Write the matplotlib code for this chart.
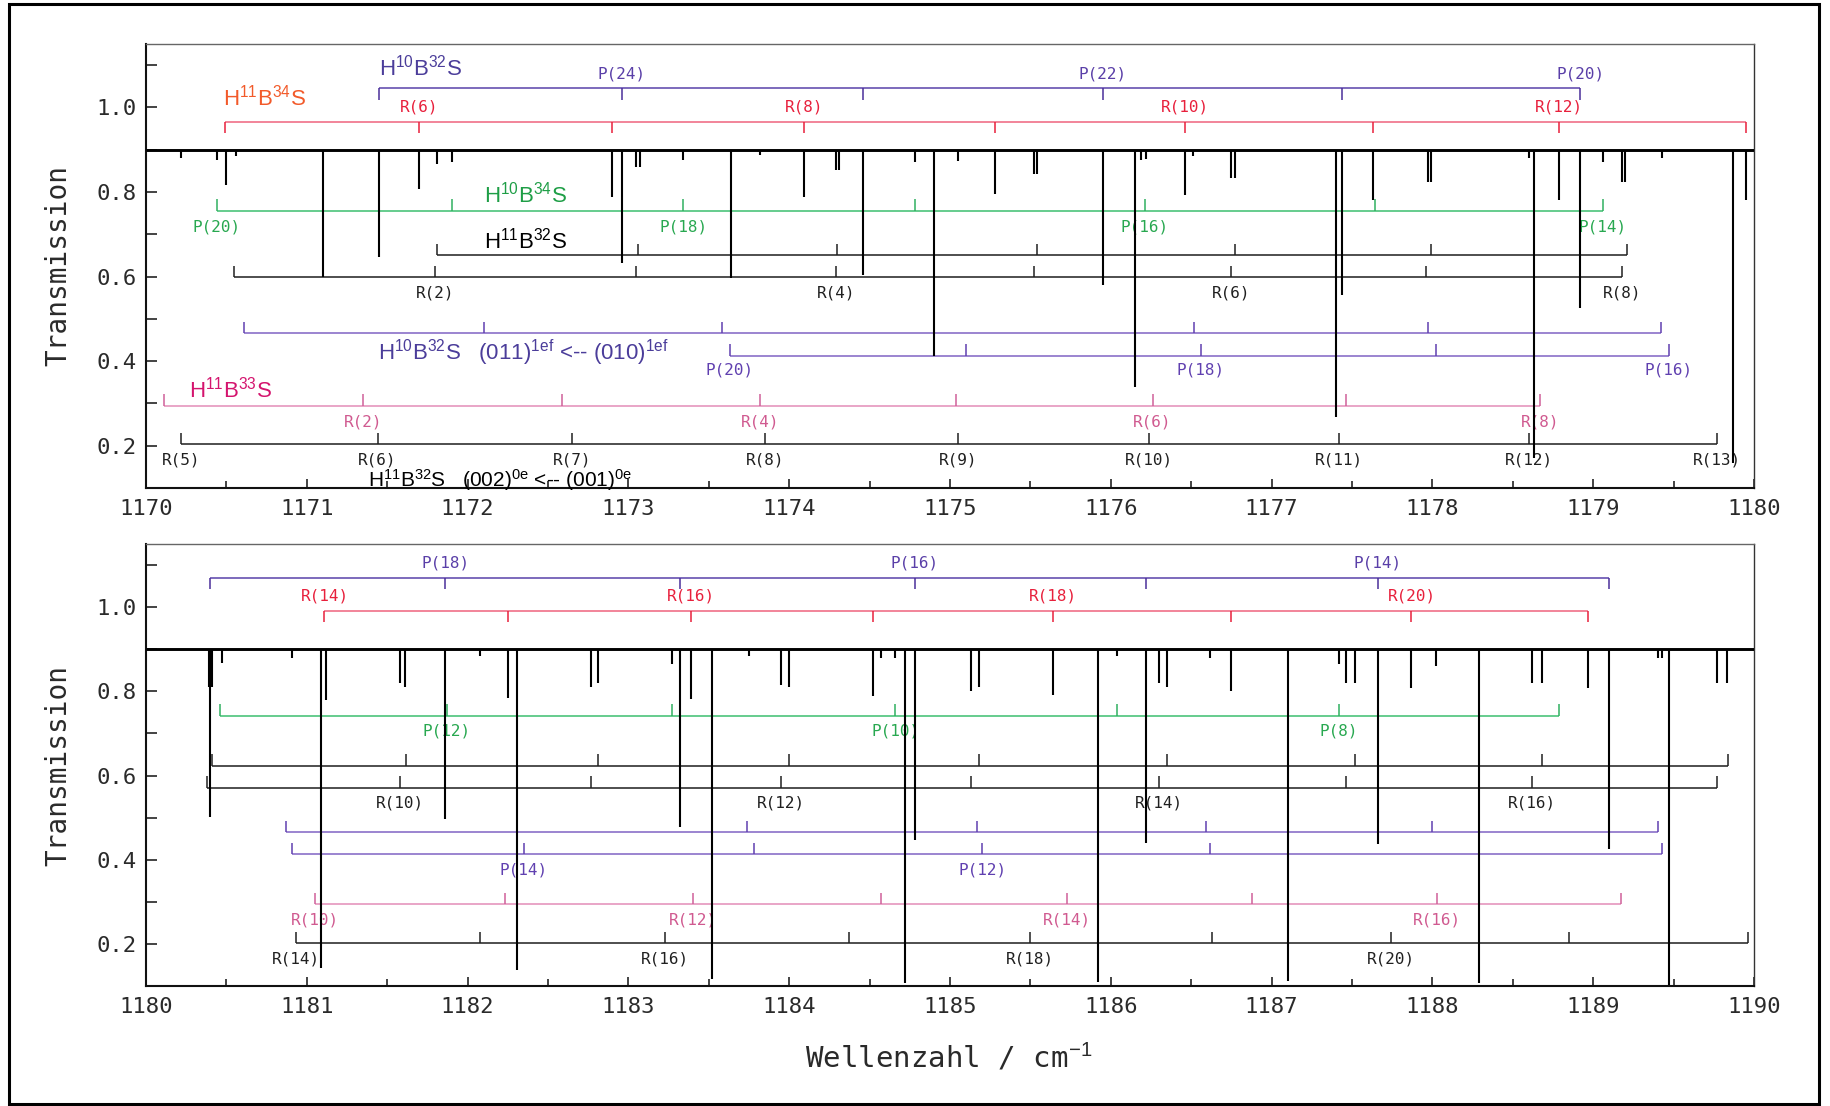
import matplotlib
matplotlib.use("Agg")
import matplotlib.pyplot as plt
from matplotlib.patches import Rectangle
from matplotlib.ticker import MultipleLocator, FormatStrFormatter

plt.rcParams['font.family'] = ['DejaVu Sans Mono']
plt.rcParams['mathtext.fontset'] = 'custom'
plt.rcParams['mathtext.rm'] = 'Liberation Sans'
plt.rcParams['mathtext.it'] = 'Liberation Sans:italic'
plt.rcParams['mathtext.bf'] = 'Liberation Sans:bold'

BASELINE = 0.9

# ---------------- absorption lines: position (cm^-1) and transmission minimum
top_line_pos = [1170.22, 1170.44, 1170.50, 1170.56, 1171.10, 1171.45, 1171.70, 1171.81,
                1171.90, 1172.90, 1172.96, 1173.05, 1173.07, 1173.34, 1173.64, 1173.82,
                1174.09, 1174.29, 1174.31, 1174.46, 1174.78, 1174.90, 1175.05, 1175.28,
                1175.52, 1175.54, 1175.95, 1176.15, 1176.19, 1176.22, 1176.46, 1176.51,
                1176.75, 1176.77, 1177.40, 1177.44, 1177.63, 1177.97, 1177.99, 1178.60,
                1178.63, 1178.79, 1178.92, 1179.06, 1179.18, 1179.20, 1179.43, 1179.87,
                1179.95]
top_line_min = [0.880, 0.876, 0.817, 0.885, 0.600, 0.647, 0.806, 0.866,
                0.872, 0.789, 0.632, 0.860, 0.860, 0.876, 0.596, 0.887,
                0.787, 0.852, 0.852, 0.603, 0.872, 0.413, 0.874, 0.795,
                0.843, 0.843, 0.580, 0.340, 0.876, 0.878, 0.793, 0.885,
                0.832, 0.832, 0.267, 0.556, 0.781, 0.824, 0.824, 0.880,
                0.170, 0.781, 0.526, 0.870, 0.824, 0.824, 0.880, 0.160,
                0.781]

bot_line_pos = [1180.39, 1180.40, 1180.41, 1180.47, 1180.91, 1181.09, 1181.12, 1181.58,
                1181.61, 1181.86, 1182.08, 1182.25, 1182.31, 1182.77, 1182.81, 1183.27,
                1183.32, 1183.39, 1183.52, 1183.75, 1183.95, 1184.00, 1184.52, 1184.57,
                1184.66, 1184.72, 1184.78, 1185.13, 1185.18, 1185.64, 1185.92, 1186.04,
                1186.22, 1186.30, 1186.35, 1186.62, 1186.75, 1187.10, 1187.42, 1187.46,
                1187.52, 1187.66, 1187.87, 1188.02, 1188.29, 1188.62, 1188.68, 1188.97,
                1189.10, 1189.40, 1189.43, 1189.47, 1189.77, 1189.83]
bot_line_min = [0.810, 0.502, 0.810, 0.868, 0.880, 0.143, 0.780, 0.820,
                0.810, 0.497, 0.885, 0.783, 0.139, 0.810, 0.820, 0.865,
                0.477, 0.781, 0.117, 0.885, 0.815, 0.810, 0.789, 0.880,
                0.880, 0.107, 0.446, 0.800, 0.810, 0.792, 0.109, 0.885,
                0.439, 0.820, 0.810, 0.880, 0.800, 0.111, 0.865, 0.820,
                0.820, 0.438, 0.807, 0.860, 0.107, 0.820, 0.820, 0.809,
                0.426, 0.880, 0.880, 0.103, 0.820, 0.820]

# ---------------- line assignments, 1170-1180 cm^-1
t_h10b32s_pos = [1171.45, 1172.96, 1174.46, 1175.95, 1177.44, 1178.92]
t_h10b32s_lab = ['', 'P(24)', '', 'P(22)', '', 'P(20)']
t_h11b34s_pos = [1170.49, 1171.70, 1172.90, 1174.09, 1175.28, 1176.46, 1177.63, 1178.79, 1179.95]
t_h11b34s_lab = ['', 'R(6)', '', 'R(8)', '', 'R(10)', '', 'R(12)', '']
t_h10b34s_pos = [1170.44, 1171.90, 1173.34, 1174.78, 1176.21, 1177.64, 1179.06]
t_h10b34s_lab = ['P(20)', '', 'P(18)', '', 'P(16)', '', 'P(14)']
t_h11b32s_a_pos = [1171.81, 1173.06, 1174.30, 1175.54, 1176.77, 1177.99, 1179.21]
t_h11b32s_a_lab = [''] * 7
t_h11b32s_r_pos = [1170.55, 1171.80, 1173.05, 1174.29, 1175.52, 1176.75, 1177.96, 1179.18]
t_h11b32s_r_lab = ['', 'R(2)', '', 'R(4)', '', 'R(6)', '', 'R(8)']
t_ef_a_pos = [1170.61, 1172.10, 1173.58, 1176.52, 1177.97, 1179.42]
t_ef_a_lab = [''] * 6
t_ef_p_pos = [1173.63, 1175.10, 1176.56, 1178.02, 1179.47]
t_ef_p_lab = ['P(20)', '', 'P(18)', '', 'P(16)']
t_h11b33s_pos = [1170.11, 1171.35, 1172.59, 1173.82, 1175.04, 1176.26, 1177.46, 1178.67]
t_h11b33s_lab = ['', 'R(2)', '', 'R(4)', '', 'R(6)', '', 'R(8)']
t_hot_pos = [1170.22, 1171.44, 1172.65, 1173.85, 1175.05, 1176.24, 1177.42, 1178.60, 1179.77]
t_hot_lab = ['R(5)', 'R(6)', 'R(7)', 'R(8)', 'R(9)', 'R(10)', 'R(11)', 'R(12)', 'R(13)']

# ---------------- line assignments, 1180-1190 cm^-1
b_h10b32s_pos = [1180.40, 1181.86, 1183.32, 1184.78, 1186.22, 1187.66, 1189.10]
b_h10b32s_lab = ['', 'P(18)', '', 'P(16)', '', 'P(14)', '']
b_h11b34s_pos = [1181.11, 1182.25, 1183.39, 1184.52, 1185.64, 1186.75, 1187.87, 1188.97]
b_h11b34s_lab = ['R(14)', '', 'R(16)', '', 'R(18)', '', 'R(20)', '']
b_h10b34s_pos = [1180.46, 1181.87, 1183.27, 1184.66, 1186.04, 1187.42, 1188.79]
b_h10b34s_lab = ['', 'P(12)', '', 'P(10)', '', 'P(8)', '']
b_h11b32s_a_pos = [1180.41, 1181.62, 1182.81, 1184.00, 1185.18, 1186.35, 1187.52, 1188.68, 1189.84]
b_h11b32s_a_lab = [''] * 9
b_h11b32s_r_pos = [1180.38, 1181.58, 1182.77, 1183.95, 1185.13, 1186.30, 1187.46, 1188.62, 1189.77]
b_h11b32s_r_lab = ['', 'R(10)', '', 'R(12)', '', 'R(14)', '', 'R(16)', '']
b_ef_a_pos = [1180.87, 1183.74, 1185.17, 1186.59, 1188.00, 1189.40]
b_ef_a_lab = [''] * 6
b_ef_p_pos = [1180.91, 1182.35, 1183.78, 1185.20, 1186.62, 1189.43]
b_ef_p_lab = ['', 'P(14)', '', 'P(12)', '', '']
b_h11b33s_pos = [1181.05, 1182.23, 1183.40, 1184.57, 1185.73, 1186.88, 1188.03, 1189.17]
b_h11b33s_lab = ['R(10)', '', 'R(12)', '', 'R(14)', '', 'R(16)', '']
b_hot_pos = [1180.93, 1182.08, 1183.23, 1184.37, 1185.50, 1186.63, 1187.74, 1188.85, 1189.96]
b_hot_lab = ['R(14)', '', 'R(16)', '', 'R(18)', '', 'R(20)', '', '']

# ---------------- colours: (bar line, tick, label)
PURPLE = ('#6650B0', '#4A2F9A', '#5A3FA8')
EF = ('#8A70C8', '#6040B0', '#6040B0')
RED = ('#F07088', '#E8203C', '#E8203C')
GREEN = ('#4CC47A', '#30B060', '#28A850')
BLACK = ('#303030', '#202020', '#202020')
PINK = ('#E596BE', '#D0609A', '#D05A90')

W, H = 1830, 1106
fig = plt.figure(figsize=(W / 100, H / 100), dpi=100)
fig.patch.set_facecolor('white')


def frac_axes(left, top, right, bottom):
    return fig.add_axes([left / W, 1 - bottom / H, (right - left) / W, (bottom - top) / H])


ax_top = frac_axes(146, 44, 1754, 488)
ax_bot = frac_axes(146, 544, 1754, 986)


def draw_spectrum(ax, x0, x1, pos, mins):
    ax.plot([x0, x1], [BASELINE, BASELINE], color='black', lw=2.1, zorder=5,
            solid_capstyle='butt')
    ax.vlines(pos, mins, BASELINE, color='black', lw=1.5, zorder=6)


def draw_comb(ax, xs, labels, y, tick, label_y, colors):
    line_c, tick_c, text_c = colors
    ax.plot([xs[0], xs[-1]], [y, y], color=line_c, lw=1.2, zorder=2,
            solid_capstyle='butt')
    ax.vlines(xs, y, y + tick, color=tick_c, lw=1.1, zorder=2)
    for x, lab in zip(xs, labels):
        if lab:
            ax.text(x, label_y, lab, ha='center', va='center', color=text_c,
                    fontsize=11.5, zorder=3)


def style_axes(ax, x0, x1):
    ax.set_xlim(x0, x1)
    ax.set_ylim(0.1, 1.15)
    ax.xaxis.set_major_locator(MultipleLocator(1))
    ax.xaxis.set_minor_locator(MultipleLocator(0.5))
    ax.yaxis.set_major_locator(MultipleLocator(0.2))
    ax.yaxis.set_minor_locator(MultipleLocator(0.1))
    ax.xaxis.set_major_formatter(FormatStrFormatter('%d'))
    ax.yaxis.set_major_formatter(FormatStrFormatter('%.1f'))
    ax.tick_params(which='both', direction='in', top=False, right=False,
                   colors='#111111', labelcolor='#2a2a2a')
    ax.tick_params(axis='y', which='both', length=8, width=1.1, pad=7, labelsize=16)
    ax.tick_params(axis='x', which='major', length=6.5, width=1.1, pad=8, labelsize=16)
    ax.tick_params(axis='x', which='minor', length=4.8, width=1.1)
    ax.spines['left'].set_linewidth(1.5)
    ax.spines['bottom'].set_linewidth(1.5)
    ax.spines['left'].set_color('#111111')
    ax.spines['bottom'].set_color('#111111')
    ax.spines['top'].set_linewidth(1.0)
    ax.spines['top'].set_color('#666666')
    ax.spines['right'].set_linewidth(1.0)
    ax.spines['right'].set_color('#333333')


# ---------------- upper panel
style_axes(ax_top, 1170, 1180)
draw_spectrum(ax_top, 1170, 1180, top_line_pos, top_line_min)
draw_comb(ax_top, t_h10b32s_pos, t_h10b32s_lab, 1.045, -0.027, 1.080, PURPLE)
draw_comb(ax_top, t_h11b34s_pos, t_h11b34s_lab, 0.966, -0.026, 1.000, RED)
draw_comb(ax_top, t_h10b34s_pos, t_h10b34s_lab, 0.756, 0.027, 0.718, GREEN)
draw_comb(ax_top, t_h11b32s_a_pos, t_h11b32s_a_lab, 0.650, 0.027, 0.620, BLACK)
draw_comb(ax_top, t_h11b32s_r_pos, t_h11b32s_r_lab, 0.599, 0.027, 0.562, BLACK)
draw_comb(ax_top, t_ef_a_pos, t_ef_a_lab, 0.466, 0.026, 0.430, EF)
draw_comb(ax_top, t_ef_p_pos, t_ef_p_lab, 0.413, 0.027, 0.378, EF)
draw_comb(ax_top, t_h11b33s_pos, t_h11b33s_lab, 0.295, 0.027, 0.257, PINK)
draw_comb(ax_top, t_hot_pos, t_hot_lab, 0.204, 0.026, 0.166, BLACK)

title_kw = dict(ha='left', va='baseline', family='Liberation Sans', zorder=4)
ax_top.text(1171.45, 1.076, r'H$^{10}$B$^{32}$S', color='#4B3D9A', fontsize=16, **title_kw)
ax_top.text(1170.48, 1.004, r'H$^{11}$B$^{34}$S', color='#F25A2A', fontsize=16, **title_kw)
ax_top.text(1172.10, 0.776, r'H$^{10}$B$^{34}$S', color='#1E9E46', fontsize=16, **title_kw)
ax_top.text(1172.10, 0.666, r'H$^{11}$B$^{32}$S', color='black', fontsize=16, **title_kw)
ax_top.text(1171.44, 0.403,
            r'H$^{10}$B$^{32}$S   (011)$^{\mathrm{1ef}}$ <-- (010)$^{\mathrm{1ef}}$',
            color='#4B3D9A', fontsize=16, **title_kw)
ax_top.text(1170.27, 0.314, r'H$^{11}$B$^{33}$S', color='#D4146E', fontsize=16, **title_kw)
ax_top.text(1171.38, 0.104,
            r'H$^{11}$B$^{32}$S   (002)$^{\mathrm{0e}}$ <-- (001)$^{\mathrm{0e}}$',
            color='black', fontsize=15, **title_kw)

# ---------------- lower panel
style_axes(ax_bot, 1180, 1190)
draw_spectrum(ax_bot, 1180, 1190, bot_line_pos, bot_line_min)
draw_comb(ax_bot, b_h10b32s_pos, b_h10b32s_lab, 1.070, -0.026, 1.105, PURPLE)
draw_comb(ax_bot, b_h11b34s_pos, b_h11b34s_lab, 0.991, -0.026, 1.026, RED)
draw_comb(ax_bot, b_h10b34s_pos, b_h10b34s_lab, 0.742, 0.027, 0.706, GREEN)
draw_comb(ax_bot, b_h11b32s_a_pos, b_h11b32s_a_lab, 0.623, 0.027, 0.590, BLACK)
draw_comb(ax_bot, b_h11b32s_r_pos, b_h11b32s_r_lab, 0.571, 0.027, 0.534, BLACK)
draw_comb(ax_bot, b_ef_a_pos, b_ef_a_lab, 0.465, 0.026, 0.430, EF)
draw_comb(ax_bot, b_ef_p_pos, b_ef_p_lab, 0.414, 0.026, 0.376, EF)
draw_comb(ax_bot, b_h11b33s_pos, b_h11b33s_lab, 0.295, 0.026, 0.257, PINK)
draw_comb(ax_bot, b_hot_pos, b_hot_lab, 0.202, 0.026, 0.165, BLACK)

# ---------------- axis titles and outer frame
fig.text(58 / W, 1 - 266 / H, 'Transmission', rotation=90, ha='center', va='center',
         fontsize=20, color='#2a2a2a')
fig.text(58 / W, 1 - 765 / H, 'Transmission', rotation=90, ha='center', va='center',
         fontsize=20, color='#2a2a2a')
fig.text(805 / W, 1 - 1068 / H, r'Wellenzahl / cm$^{-1}$', ha='left', va='baseline',
         fontsize=21, color='#2a2a2a')

fig.add_artist(Rectangle((9 / W, 2 / H), (1819 - 9) / W, (1104 - 4) / H,
                         transform=fig.transFigure, fill=False, lw=2.2,
                         edgecolor='black'))

fig.savefig('out.png', dpi=100, facecolor='white')
